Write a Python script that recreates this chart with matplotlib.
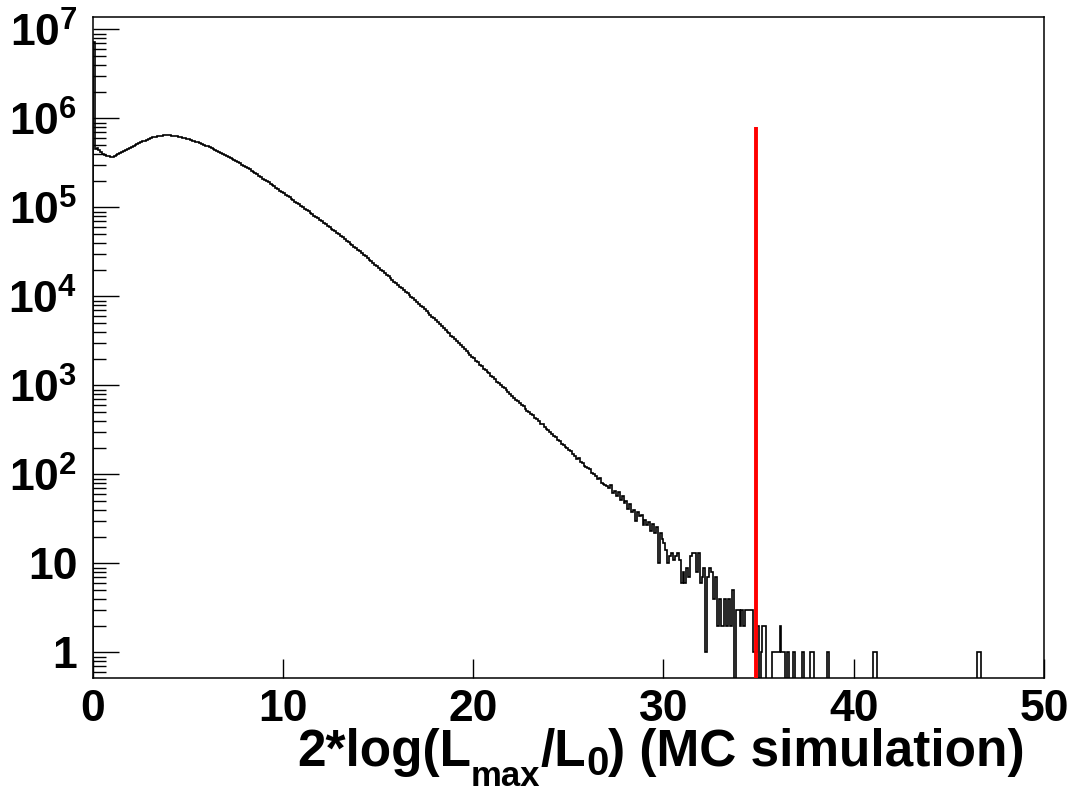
import numpy as np
import matplotlib
matplotlib.use('Agg')
import matplotlib.pyplot as plt
from matplotlib.ticker import LogLocator, NullFormatter

# --- histogram contents, 500 bins of width 0.1 on [0, 50] ---
x_min, x_max, n_bins = 0.0, 50.0, 500

counts_00_10 = [
    7200000, 455000, 468000, 445000, 418000, 400000, 388000, 380000, 375000, 371000,
    371000, 378000, 389000, 400000, 411000, 422000, 433000, 445000, 456000, 467000,
    479000, 491000, 503000, 515000, 526000, 538000, 551000, 564000, 577000, 590000,
    602000, 611000, 619000, 626000, 632000, 637000, 641000, 644000, 646000, 647000,
    646000, 643000, 639000, 634000, 629000, 623000, 616000, 607000, 598000, 590000,
    582000, 573000, 564000, 555000, 546000, 537000, 527000, 516000, 505000, 495000,
    484000, 473000, 462000, 452000, 441000, 431000, 420000, 410000, 400000, 390000,
    380000, 370000, 360000, 350000, 341000, 331000, 321000, 312000, 303000, 294000,
    285000, 276000, 268000, 259000, 251000, 243000, 235000, 227000, 219000, 211000,
    204000, 197500, 191000, 184500, 178000, 172000, 166000, 160000, 155000, 149500,
]
counts_10_20 = [
    144500, 139400, 134500, 129800, 125200, 120800, 116500, 112400, 108500, 104600,
    101000, 97300, 93800, 90400, 87100, 84000, 80900, 78000, 75200, 72500,
    70000, 67400, 64900, 62500, 60100, 57900, 55700, 53700, 51700, 49700,
    47900, 46000, 44200, 42400, 40700, 39100, 37600, 36100, 34700, 33300,
    32000, 30700, 29400, 28200, 27000, 25900, 24800, 23800, 22800, 21800,
    20900, 20000, 19150, 18300, 17550, 16800, 16050, 15400, 14700, 14100,
    13500, 12900, 12370, 11850, 11330, 10850, 10380, 9940, 9510, 9100,
    8700, 8300, 7910, 7540, 7190, 6860, 6540, 6230, 5940, 5670,
    5400, 5150, 4880, 4670, 4430, 4230, 4010, 3840, 3630, 3480,
    3310, 3120, 3000, 2820, 2710, 2560, 2460, 2310, 2220, 2090,
]
counts_20_30 = [
    2010, 1890, 1830, 1710, 1660, 1550, 1510, 1400, 1370, 1280,
    1240, 1175, 1105, 1070, 1010, 968, 925, 880, 840, 795,
    768, 730, 688, 668, 628, 600, 582, 548, 520, 502,
    482, 460, 432, 420, 398, 372, 366, 340, 326, 312,
    301, 284, 270, 262, 246, 238, 222, 214, 204, 196,
    188, 184, 168, 162, 150, 152, 138, 136, 126, 122,
    118, 114, 104, 101, 96, 89, 92, 80, 78, 76,
    74, 70, 76, 62, 66, 58, 63, 52, 57, 48,
    50, 41, 46, 38, 40, 30, 38, 34, 35, 27,
    31, 27, 29, 23, 28, 22, 26, 10, 22, 19,
]
counts_30_40 = [
    17, 14, 10, 12, 13, 11, 12, 13, 11, 6,
    8, 6, 9, 7, 12, 13, 13, 8, 13, 6,
    7, 9, 1, 7, 9, 8, 4, 7, 2, 4,
    2, 2, 4, 2, 4, 2, 5, 0, 3, 3,
    2, 3, 2, 3, 3, 3, 3, 1, 1, 2,
    0, 1, 2, 2, 0, 0, 0, 1, 1, 1,
    1, 2, 1, 1, 0, 1, 0, 0, 1, 0,
    0, 0, 0, 1, 0, 0, 0, 1, 1, 0,
    0, 0, 0, 0, 0, 0, 1, 0, 0, 0,
    0, 0, 0, 0, 0, 0, 0, 0, 0, 0,
]
counts_40_50 = [0] * 10 + [1, 1] + [0] * 53 + [1, 1] + [0] * 33

# observed value (red line)
cut_value = 34.85
cut_height = 8.0e5

y_ticks = [1, 10, 1e2, 1e3, 1e4, 1e5, 1e6, 1e7]
y_labels = ['1', '10', '$10^{2}$', '$10^{3}$', '$10^{4}$', '$10^{5}$', '$10^{6}$', '$10^{7}$']
x_ticks = [0, 10, 20, 30, 40, 50]
# axis title pieces: (text, size, baseline in px from top)
title_parts = [('2*log(L', 37, 766), ('max', 25, 786), ('/L', 37, 766),
               ('0', 29, 775), (') (MC simulation)', 37, 766)]

counts = np.array(counts_00_10 + counts_10_20 + counts_20_30 + counts_30_40 + counts_40_50, dtype=float)
edges = np.linspace(x_min, x_max, n_bins + 1)

# ROOT-like bold helvetica
plt.rcParams['font.family'] = ['Liberation Sans', 'DejaVu Sans']
plt.rcParams['font.weight'] = 'bold'
plt.rcParams['mathtext.fontset'] = 'custom'
plt.rcParams['mathtext.rm'] = 'Liberation Sans:bold'
plt.rcParams['mathtext.it'] = 'Liberation Sans:bold'
plt.rcParams['mathtext.bf'] = 'Liberation Sans:bold'
plt.rcParams['mathtext.default'] = 'rm'

W, H = 1071, 793
fig = plt.figure(figsize=(W / 100, H / 100), dpi=100)
left, right, top, bottom = 92.7, 1044, 16.7, 678
ax = fig.add_axes([left / W, 1 - bottom / H, (right - left) / W, (bottom - top) / H])

# empty bins are drawn down through the frame as ROOT does
draw_counts = np.where(counts > 0, counts, 1e-3)
ax.stairs(draw_counts, edges, baseline=1e-3, color='black', lw=1.2, zorder=2)
ax.vlines(cut_value, 1e-3, cut_height, color='red', lw=2.8, zorder=3)

ax.set_yscale('log')
ax.set_xlim(x_min, x_max)
ax.set_ylim(0.517, 1.39e7)

ax.set_yticks(y_ticks)
ax.set_yticklabels(y_labels)
ax.yaxis.set_minor_locator(LogLocator(base=10, subs=np.arange(2, 10), numticks=30))
ax.yaxis.set_minor_formatter(NullFormatter())
ax.set_xticks(x_ticks)
ax.set_xticklabels([str(v) for v in x_ticks])
ax.xaxis.set_minor_locator(plt.NullLocator())

ax.tick_params(axis='y', which='major', direction='in', length=19, width=1.0, pad=11, labelsize=32)
ax.tick_params(axis='y', which='minor', direction='in', length=9.5, width=1.0)
ax.tick_params(axis='x', which='major', direction='in', length=14, width=1.0, pad=8, labelsize=32)
for s in ax.spines.values():
    s.set_linewidth(1.1)

# x title with ROOT-style lowered subscripts, right-aligned at x=1025 px
renderer = fig.canvas.get_renderer()
texts, widths = [], []
for s, size, base in title_parts:
    t = fig.text(0, 1 - base / H, s, fontsize=size, ha='left', va='baseline')
    texts.append(t)
    widths.append(t.get_window_extent(renderer).width)
xpos = 1025 - sum(widths)
for t, w in zip(texts, widths):
    t.set_x(xpos / W)
    xpos += w

fig.savefig('out.png', dpi=100)
